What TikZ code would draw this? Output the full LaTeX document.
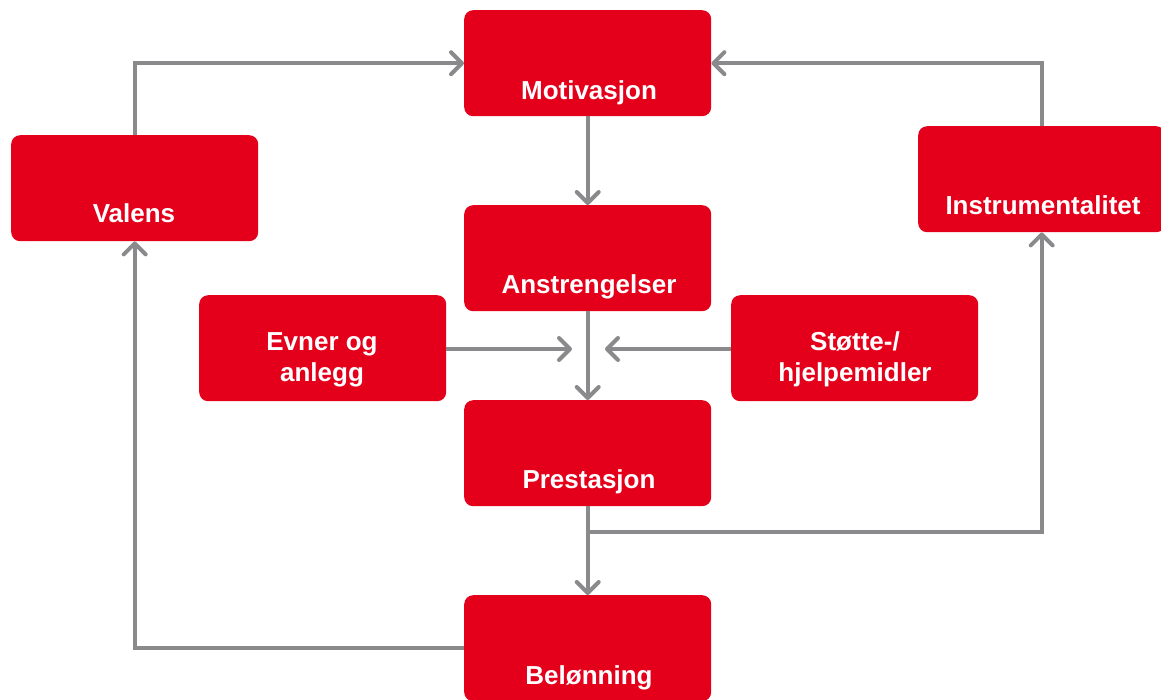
\documentclass[tikz,border=0pt]{standalone}
\usepackage{fontspec}
\setmainfont{Liberation Sans}
\usetikzlibrary{arrows.meta}
\definecolor{boxred}{RGB}{228,0,27}
\definecolor{linkgray}{RGB}{138,138,140}
\begin{document}
\begin{tikzpicture}[x=1pt,y=-1pt,
  box/.style={fill=boxred, rounded corners=9pt, minimum width=247pt,
    minimum height=106pt, inner sep=0pt, anchor=north west},
  lbl/.style={text=white, font=\fontsize{26}{31}\selectfont\bfseries,
    anchor=base, inner sep=0pt, align=center},
  link/.style={draw=linkgray, line width=4pt,
    -{Straight Barb[length=11pt,width=22pt,line cap=round,line join=round]}},
]
\useasboundingbox (0,0) rectangle (1161,699);

% boxes
\node[box] (motiv)  at (464,10)  {};
\node[box] (valens) at (11,135)  {};
\node[box] (instr)  at (918,126) {};
\node[box] (anstr)  at (464,205) {};
\node[box] (evner)  at (199,295) {};
\node[box] (stotte) at (731,295) {};
\node[box] (prest)  at (464,400) {};
\node[box] (belon)  at (464,595) {};

% labels, set on a common baseline near the bottom of each box
% (two-line labels are placed by the baseline of their last line)
\node[lbl] (motiv-t)  at (589,99)  {Motivasjon};
\node[lbl] (valens-t) at (134,222) {Valens};
\node[lbl] (instr-t)  at (1043,214) {Instrumentalitet};
\node[lbl] (anstr-t)  at (589,293) {Anstrengelser};
\node[lbl] (evner-t)  at (322,381) {Evner og\\anlegg};
\node[lbl] (stotte-t) at (855,381) {Støtte-/\\hjelpemidler};
\node[lbl] (prest-t)  at (589,488) {Prestasjon};
\node[lbl] (belon-t)  at (589,684) {Belønning};

% free ends and junction points
\coordinate (evner-end)  at (572,349);
\coordinate (stotte-end) at (605,349);
\coordinate (split)      at (587.5,532);

% connectors
\draw[link] (valens.north) |- (motiv.west);
\draw[link] (instr.north) |- (motiv.east);
\draw[link] (motiv.south) -- (anstr.north);
\draw[link] (anstr.south) -- (prest.north);
\draw[link] (evner.east |- evner-end) -- (evner-end);
\draw[link] (stotte.west |- stotte-end) -- (stotte-end);
\draw[link] (prest.south) -- (belon.north);
\draw[link] (split) -| (instr.south);
\draw[link] (belon.west) -| (valens.south);
\end{tikzpicture}
\end{document}
